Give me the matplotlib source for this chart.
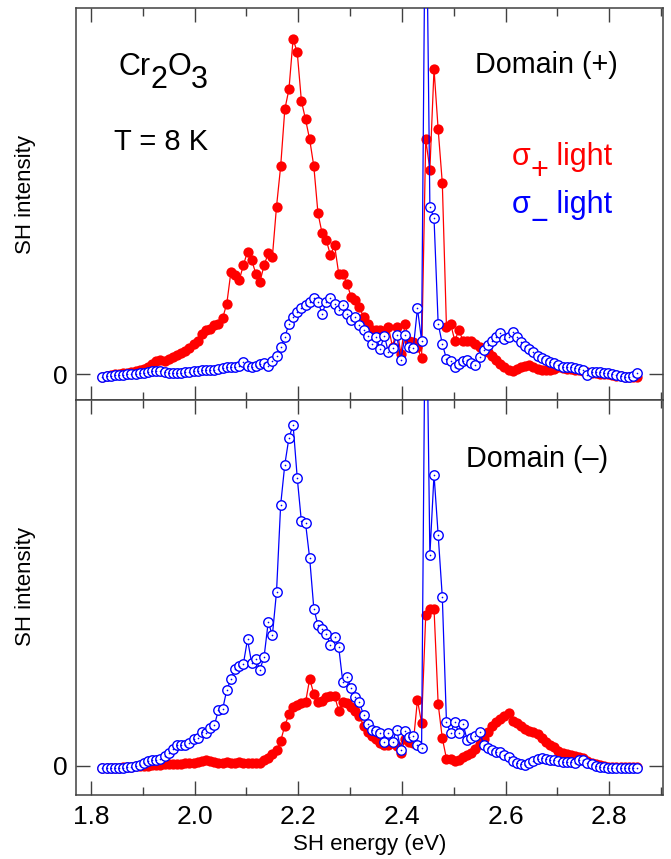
# SH spectra of Cr2O3 for both domains, sigma+ / sigma- light
import matplotlib
matplotlib.use('Agg')
import matplotlib.pyplot as plt
from matplotlib.ticker import MultipleLocator

plt.rcParams['font.family'] = ['Liberation Sans', 'DejaVu Sans']

# photon energy (eV), shared by all four scans
energy = [
    1.822, 1.830, 1.838, 1.846, 1.854, 1.862, 1.870, 1.878, 1.886, 1.894,
    1.902, 1.910, 1.918, 1.926, 1.934, 1.942, 1.950, 1.958, 1.966, 1.974,
    1.982, 1.990, 1.998, 2.006, 2.014, 2.022, 2.030, 2.038, 2.046, 2.054,
    2.062, 2.070, 2.078, 2.086, 2.094, 2.102, 2.110, 2.118, 2.126, 2.134,
    2.142, 2.150, 2.158, 2.166, 2.174, 2.182, 2.190, 2.198, 2.206, 2.214,
    2.222, 2.230, 2.238, 2.246, 2.254, 2.262, 2.270, 2.278, 2.286, 2.294,
    2.302, 2.310, 2.318, 2.326, 2.334, 2.342, 2.350, 2.358, 2.366, 2.374,
    2.382, 2.390, 2.398, 2.406, 2.414, 2.422, 2.430, 2.438, 2.446, 2.454,
    2.462, 2.470, 2.478, 2.486, 2.494, 2.502, 2.510, 2.518, 2.526, 2.534,
    2.542, 2.550, 2.558, 2.566, 2.574, 2.582, 2.590, 2.598, 2.606, 2.614,
    2.622, 2.630, 2.638, 2.646, 2.654, 2.662, 2.670, 2.678, 2.686, 2.694,
    2.702, 2.710, 2.718, 2.726, 2.734, 2.742, 2.750, 2.758, 2.766, 2.774,
    2.782, 2.790, 2.798, 2.806, 2.814, 2.822, 2.830, 2.838, 2.846, 2.854,
]

# Domain (+), sigma+ light (red)
dom_p_sig_p = [
    -0.010, -0.005, -0.003, 0.000, 0.000, 0.002, 0.004, 0.006, 0.008, 0.012,
    0.016, 0.022, 0.030, 0.038, 0.042, 0.040, 0.045, 0.052, 0.058, 0.064,
    0.070, 0.078, 0.090, 0.100, 0.120, 0.130, 0.135, 0.145, 0.148, 0.167,
    0.210, 0.305, 0.295, 0.280, 0.325, 0.365, 0.340, 0.300, 0.275, 0.325,
    0.360, 0.350, 0.500, 0.620, 0.790, 0.850, 1.000, 0.960, 0.815, 0.760,
    0.700, 0.620, 0.480, 0.420, 0.400, 0.355, 0.385, 0.300, 0.300, 0.270,
    0.230, 0.220, 0.200, 0.170, 0.150, 0.130, 0.130, 0.130, 0.125, 0.140,
    0.080, 0.140, 0.060, 0.150, 0.100, 0.095, 0.080, 0.047, 0.700, 0.610,
    0.910, 0.730, 0.570, 0.140, 0.150, 0.100, 0.130, 0.100, 0.100, 0.100,
    0.090, 0.080, 0.072, 0.065, 0.055, 0.042, 0.030, 0.020, 0.013, 0.010,
    0.015, 0.020, 0.025, 0.027, 0.020, 0.015, 0.012, 0.012, 0.012, 0.015,
    0.020, 0.018, 0.015, 0.015, 0.012, 0.012, 0.008, 0.005, 0.003, 0.003,
    0.000, 0.000, 0.000, -0.003, -0.005, -0.005, -0.008, -0.010, -0.010, -0.010,
]

# Domain (+), sigma- light (blue)
dom_p_sig_m = [
    -0.008, -0.006, -0.005, -0.004, -0.003, -0.002, -0.001, 0.000, 0.000, 0.002,
    0.003, 0.006, 0.008, 0.010, 0.010, 0.007, 0.004, 0.003, 0.003, 0.004,
    0.005, 0.006, 0.008, 0.010, 0.011, 0.012, 0.013, 0.013, 0.014, 0.017,
    0.020, 0.022, 0.022, 0.025, 0.037, 0.025, 0.022, 0.024, 0.030, 0.033,
    0.025, 0.040, 0.055, 0.080, 0.110, 0.150, 0.170, 0.185, 0.197, 0.206,
    0.215, 0.227, 0.215, 0.180, 0.215, 0.227, 0.210, 0.190, 0.206, 0.180,
    0.160, 0.170, 0.146, 0.130, 0.115, 0.090, 0.110, 0.075, 0.115, 0.065,
    0.077, 0.116, 0.042, 0.116, 0.080, 0.077, 0.196, 0.100, 1.600, 0.500,
    0.465, 0.150, 0.090, 0.045, 0.040, 0.020, 0.030, 0.040, 0.042, 0.033,
    0.027, 0.052, 0.072, 0.087, 0.100, 0.110, 0.121, 0.106, 0.110, 0.126,
    0.111, 0.096, 0.085, 0.075, 0.065, 0.055, 0.048, 0.042, 0.037, 0.032,
    0.027, 0.022, 0.020, 0.020, 0.018, 0.015, 0.012, -0.003, 0.005, 0.006,
    0.005, 0.003, 0.002, 0.000, -0.003, -0.006, -0.008, -0.010, -0.005, 0.003,
]

# Domain (-), sigma+ light (red)
dom_m_sig_p = [
    -0.005, -0.005, -0.005, -0.005, -0.005, -0.004, -0.003, -0.002, -0.001, 0.000,
    0.000, 0.001, 0.002, 0.003, 0.004, 0.005, 0.006, 0.006, 0.007, 0.007,
    0.008, 0.009, 0.010, 0.012, 0.014, 0.018, 0.015, 0.012, 0.010, 0.010,
    0.011, 0.010, 0.010, 0.011, 0.010, 0.010, 0.009, 0.009, 0.010, 0.018,
    0.025, 0.035, 0.048, 0.075, 0.120, 0.155, 0.175, 0.183, 0.188, 0.190,
    0.260, 0.215, 0.190, 0.195, 0.205, 0.210, 0.210, 0.165, 0.190, 0.188,
    0.175, 0.165, 0.150, 0.120, 0.100, 0.090, 0.080, 0.070, 0.063, 0.063,
    0.070, 0.060, 0.038, 0.080, 0.073, 0.070, 0.197, 0.128, 0.450, 0.470,
    0.470, 0.185, 0.083, 0.022, 0.020, 0.015, 0.017, 0.028, 0.033, 0.040,
    0.050, 0.065, 0.080, 0.100, 0.118, 0.132, 0.140, 0.148, 0.157, 0.135,
    0.128, 0.120, 0.110, 0.105, 0.100, 0.095, 0.085, 0.072, 0.064, 0.056,
    0.045, 0.040, 0.036, 0.033, 0.030, 0.027, 0.025, 0.015, 0.010, 0.006,
    0.003, 0.000, -0.002, -0.003, -0.003, -0.003, -0.004, -0.004, -0.004, -0.004,
]

# Domain (-), sigma- light (blue)
dom_m_sig_m = [
    -0.007, -0.007, -0.006, -0.006, -0.005, -0.005, -0.004, -0.003, 0.000, 0.003,
    0.010, 0.014, 0.018, 0.018, 0.022, 0.030, 0.040, 0.050, 0.063, 0.063,
    0.063, 0.068, 0.080, 0.085, 0.100, 0.098, 0.112, 0.122, 0.167, 0.170,
    0.227, 0.260, 0.290, 0.300, 0.305, 0.378, 0.307, 0.318, 0.288, 0.326,
    0.430, 0.390, 0.520, 0.780, 0.900, 0.980, 1.018, 0.860, 0.730, 0.725,
    0.620, 0.470, 0.420, 0.410, 0.395, 0.360, 0.385, 0.355, 0.250, 0.267,
    0.232, 0.206, 0.190, 0.152, 0.125, 0.107, 0.103, 0.098, 0.073, 0.098,
    0.073, 0.107, 0.048, 0.105, 0.087, 0.090, 0.063, 0.055, 1.600, 0.630,
    0.870, 0.690, 0.504, 0.132, 0.098, 0.132, 0.098, 0.125, 0.078, 0.085,
    0.090, 0.102, 0.063, 0.053, 0.048, 0.043, 0.043, 0.033, 0.028, 0.015,
    0.008, 0.005, 0.003, 0.010, 0.015, 0.020, 0.024, 0.022, 0.018, 0.018,
    0.015, 0.012, 0.012, 0.012, 0.010, 0.018, 0.018, 0.009, 0.005, 0.000,
    -0.003, -0.004, -0.005, -0.005, -0.005, -0.005, -0.005, -0.006, -0.006, -0.006,
]

ROJO = '#ff0000'
AZUL = '#0000ff'
MARCO = '#404040'


def dibujar(ax, rojo, azul):
    ax.plot(energy, rojo, color=ROJO, lw=0.9, marker='o', ms=7.4,
            mfc=ROJO, mec=ROJO, mew=0, zorder=2)
    ax.plot(energy, azul, color=AZUL, lw=0.9, marker='o', ms=6.8,
            mfc='white', mec=AZUL, mew=1.0, zorder=3)
    # small dot in the middle of every open circle
    ax.plot(energy, azul, ls='none', marker='o', ms=1.2, mfc=AZUL,
            mec='none', zorder=4)

    ax.set_xlim(1.771, 2.904)
    ax.xaxis.set_major_locator(MultipleLocator(0.2))
    ax.xaxis.set_minor_locator(MultipleLocator(0.1))
    ax.set_yticks([0])
    ax.set_yticklabels(['0'])
    ax.tick_params(axis='x', which='both', direction='in', top=True,
                   bottom=True, color=MARCO, width=1.0, labelsize=19, pad=7)
    ax.tick_params(axis='x', which='major', length=10)
    ax.tick_params(axis='x', which='minor', length=5.5)
    ax.tick_params(axis='y', direction='in', left=True, right=True,
                   length=10, width=1.0, color=MARCO, labelsize=19, pad=6)
    for s in ax.spines.values():
        s.set_color(MARCO)
        s.set_linewidth(1.1)


def texto_sub(ax, x, y, piezas, color, size):
    # pieces of text chained one after the other, each with a vertical shift (pt)
    t = ax.text(x, y, piezas[0][0], transform=ax.transAxes, color=color,
                fontsize=size, ha='left', va='baseline')
    previo = 0.0
    for s, dy in piezas[1:]:
        t = ax.annotate(s, xy=(1, 0), xycoords=t, xytext=(0, dy - previo),
                        textcoords='offset points', ha='left', va='bottom',
                        color=color, fontsize=size)
        previo = dy


fig = plt.figure(figsize=(6.71, 8.59), dpi=100)
ax1 = fig.add_axes([0.1133, 0.5343, 0.8748, 0.4564])
ax2 = fig.add_axes([0.1133, 0.0745, 0.8748, 0.4598])

dibujar(ax1, dom_p_sig_p, dom_p_sig_m)
dibujar(ax2, dom_m_sig_p, dom_m_sig_m)

ax1.set_ylim(-0.0776, 1.0925)
ax2.set_ylim(-0.0866, 1.0925)
ax1.tick_params(axis='x', labelbottom=False)

ax1.set_ylabel('SH intensity', fontsize=16)
ax2.set_ylabel('SH intensity', fontsize=16)
ax1.yaxis.set_label_coords(-0.068, 0.524)
ax2.yaxis.set_label_coords(-0.068, 0.527)
ax2.set_xlabel('SH energy (eV)', fontsize=16, labelpad=4)

# labels inside the panels
texto_sub(ax1, 0.072, 0.829, [('Cr', 0), ('2', -9.4), ('O', 0), ('3', -9.4)],
          'black', 22)
ax1.text(0.064, 0.638, 'T = 8 K', transform=ax1.transAxes, fontsize=21,
         ha='left', va='baseline')
ax1.text(0.680, 0.834, 'Domain (+)', transform=ax1.transAxes, fontsize=20.7,
         ha='left', va='baseline')
texto_sub(ax1, 0.742, 0.5995, [('\u03c3', 0), ('+', -10), (' light', 0)],
          ROJO, 22)
texto_sub(ax1, 0.742, 0.477, [('\u03c3', 0), ('\u2212', -12), (' light', 0)],
          AZUL, 22)
ax2.text(0.665, 0.830, 'Domain (\u2013)', transform=ax2.transAxes,
         fontsize=20.7, ha='left', va='baseline')

fig.savefig('out.png', dpi=100)
